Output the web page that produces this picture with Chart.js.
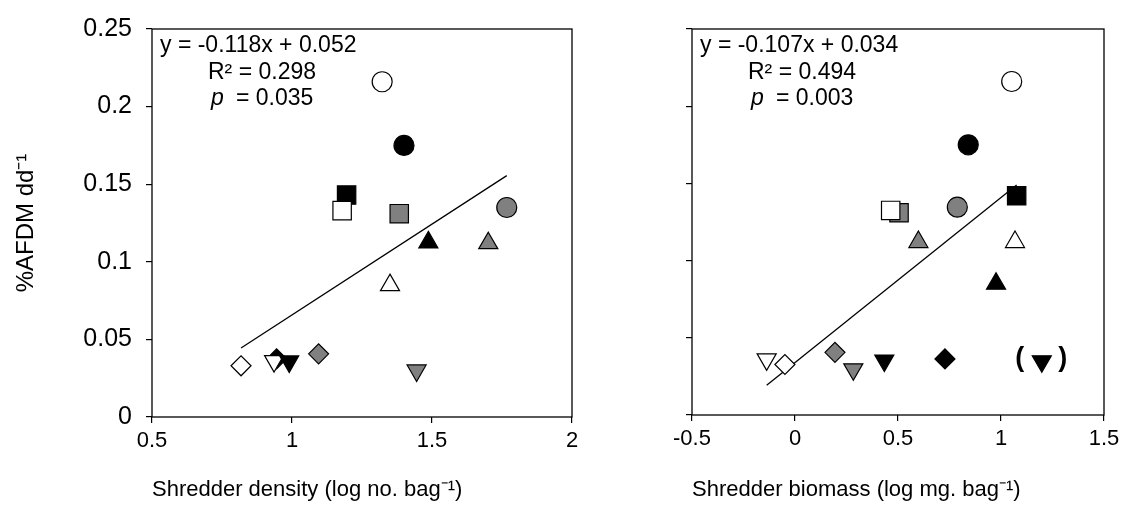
<!DOCTYPE html>
<html>
<head>
<meta charset="utf-8">
<title>Leaf decay vs shredders</title>
<script src="https://cdn.jsdelivr.net/npm/chart.js@4.4.1/dist/chart.umd.min.js"></script>
<style>
    body {
        margin: 0;
        background-color: #ffffff;
    }

    #wrap {
        position: relative;
        width: 1140px;
        height: 509px;
        overflow: hidden;
    }

    #wrap canvas {
        position: absolute;
        top: 0;
    }

    #densChart { left: 0; }
    #massChart { left: 600px; }
</style>
</head>

<body>
<div id="wrap">
    <canvas id="densChart" width="600" height="509"></canvas>
    <canvas id="massChart" width="540" height="509"></canvas>
</div>

<script>
// symbol of each site, in drawing order (later points sit on top)
const densSymbols = ['circle-open', 'circle-black', 'square-black', 'square-open', 'square-gray',
    'circle-gray', 'up-black', 'up-gray', 'up-open', 'diamond-open', 'diamond-black',
    'down-open', 'down-black', 'diamond-gray', 'down-gray']
const densX = [1.322, 1.40, 1.195, 1.179, 1.383, 1.767, 1.487, 1.701, 1.35, 0.818, 0.945, 0.936, 0.99, 1.095, 1.445]
const densY = [0.216, 0.175, 0.143, 0.133, 0.131, 0.135, 0.1125, 0.112, 0.085, 0.033, 0.0375, 0.036, 0.0358, 0.0407, 0.030]
const densFitX = [0.818, 1.767]
const densFitY = [0.0445, 0.1555]
const densStats = ['y = -0.118x + 0.052', 'R\u00b2 = 0.298', '= 0.035']

const massSymbols = ['circle-open', 'circle-black', 'square-black', 'square-gray', 'square-open',
    'circle-gray', 'up-gray', 'up-open', 'up-black', 'down-open', 'diamond-open',
    'diamond-gray', 'down-gray', 'down-black', 'diamond-black', 'down-black']
const massX = [1.052, 0.841, 1.076, 0.505, 0.4645, 0.788, 0.599, 1.068, 0.976, -0.1375, -0.049, 0.194, 0.283, 0.4335, 0.728, 1.198]
const massY = [0.216, 0.175, 0.142, 0.131, 0.1325, 0.1346, 0.112, 0.112, 0.085, 0.036, 0.0327, 0.0406, 0.0296, 0.0353, 0.0363, 0.0348]
const massFitX = [-0.1375, 1.076]
const massFitY = [0.0192, 0.149]
const massStats = ['y = -0.107x + 0.034', 'R\u00b2 = 0.494', '= 0.003']
const massBracketed = 15   // point shown in brackets

const yAxisTitle = '%AFDM dd\u207b\u00b9'
const densTitle = 'Shredder density (log no. bag\u207b\u00b9)'
const massTitle = 'Shredder biomass (log mg. bag\u207b\u00b9)'

const FONT = "'Liberation Sans', Arial, sans-serif"
const GRAY = '#808080'

const symbolStyles = {
    'circle-open':   { pointStyle: 'circle',   radius: 10, rotation: 0,   fill: '#ffffff' },
    'circle-black':  { pointStyle: 'circle',   radius: 10, rotation: 0,   fill: '#000000' },
    'circle-gray':   { pointStyle: 'circle',   radius: 10, rotation: 0,   fill: GRAY },
    'square-open':   { pointStyle: 'rect',     radius: 13, rotation: 0,   fill: '#ffffff' },
    'square-black':  { pointStyle: 'rect',     radius: 13, rotation: 0,   fill: '#000000' },
    'square-gray':   { pointStyle: 'rect',     radius: 13, rotation: 0,   fill: GRAY },
    'up-open':       { pointStyle: 'triangle', radius: 11, rotation: 0,   fill: '#ffffff' },
    'up-black':      { pointStyle: 'triangle', radius: 11, rotation: 0,   fill: '#000000' },
    'up-gray':       { pointStyle: 'triangle', radius: 11, rotation: 0,   fill: GRAY },
    'down-open':     { pointStyle: 'triangle', radius: 11, rotation: 180, fill: '#ffffff' },
    'down-black':    { pointStyle: 'triangle', radius: 11, rotation: 180, fill: '#000000' },
    'down-gray':     { pointStyle: 'triangle', radius: 11, rotation: 180, fill: GRAY },
    'diamond-open':  { pointStyle: 'rectRot',  radius: 10, rotation: 0,   fill: '#ffffff' },
    'diamond-black': { pointStyle: 'rectRot',  radius: 10, rotation: 0,   fill: '#000000' },
    'diamond-gray':  { pointStyle: 'rectRot',  radius: 10, rotation: 0,   fill: GRAY },
}

Chart.defaults.font.family = FONT
Chart.defaults.color = '#000000'

// regression stats, plot frame and the bracketed point
const panelExtras = {
    id: 'panelExtras',
    afterDraw(chart, args, opts) {
        const { ctx, chartArea: a } = chart
        ctx.save()
        ctx.strokeStyle = '#000000'
        ctx.lineWidth = 1.3
        ctx.strokeRect(a.left, a.top, a.right - a.left, a.bottom - a.top)

        ctx.fillStyle = '#000000'
        ctx.textAlign = 'left'
        ctx.textBaseline = 'alphabetic'
        ctx.font = '23px ' + FONT
        ctx.fillText(opts.stats[0], a.left + 8, a.top + 23)
        ctx.fillText(opts.stats[1], a.left + 56, a.top + 50)
        ctx.fillText(opts.stats[2], a.left + 84, a.top + 76)
        ctx.font = 'italic 23px ' + FONT
        ctx.fillText('p', a.left + 59, a.top + 76)

        if (opts.bracketed != null) {
            const pt = chart.getDatasetMeta(0).data[opts.bracketed]
            ctx.font = 'bold 27px ' + FONT
            ctx.textAlign = 'center'
            ctx.textBaseline = 'middle'
            ctx.fillText('(', pt.x - 22, pt.y - 3)
            ctx.fillText(')', pt.x + 21, pt.y - 3)
        }
        ctx.restore()
    }
}

function tickText(v) {
    return String(Number(v.toFixed(2)))
}

function makePanel(canvasId, cfg) {
    const pts = cfg.x.map((x, i) => ({ x: x, y: cfg.y[i] }))
    const fit = cfg.fitX.map((x, i) => ({ x: x, y: cfg.fitY[i] }))
    const st = cfg.symbols.map(s => symbolStyles[s])

    return new Chart(document.getElementById(canvasId), {
        type: 'scatter',
        data: {
            datasets: [{
                data: pts,
                pointStyle: st.map(s => s.pointStyle),
                pointRadius: st.map(s => s.radius),
                pointRotation: st.map(s => s.rotation),
                backgroundColor: st.map(s => s.fill),
                borderColor: '#000000',
                borderWidth: 1.2,
            }, {
                data: fit,
                showLine: true,
                pointRadius: 0,
                borderColor: '#000000',
                borderWidth: 1.3,
            }]
        },
        options: {
            responsive: false,
            animation: false,
            devicePixelRatio: 1,
            layout: { padding: { top: cfg.padTop, right: cfg.padRight, left: 0, bottom: 0 } },
            plugins: {
                legend: { display: false },
                tooltip: { enabled: false },
                panelExtras: { stats: cfg.stats, bracketed: cfg.bracketed },
            },
            scales: {
                x: {
                    type: 'linear',
                    min: cfg.xMin,
                    max: cfg.xMax,
                    afterFit(scale) { scale.height = cfg.xAxisHeight },
                    border: { display: false },
                    grid: { drawOnChartArea: false, drawTicks: true, tickLength: 6, color: '#000000', lineWidth: 1.2 },
                    ticks: { stepSize: 0.5, padding: 5, font: { size: 22 }, callback: tickText, maxRotation: 0 },
                    title: {
                        display: true,
                        text: cfg.xTitle,
                        align: 'start',
                        font: { size: 22 },
                        padding: { top: 0, bottom: 6 },
                    },
                },
                y: {
                    type: 'linear',
                    min: 0,
                    max: 0.25,
                    afterFit(scale) { scale.width = cfg.yAxisWidth },
                    border: { display: false },
                    grid: { drawOnChartArea: false, drawTicks: true, tickLength: 6, color: '#000000', lineWidth: 1.2 },
                    ticks: {
                        stepSize: 0.05,
                        padding: 14,
                        font: { size: 25 },
                        callback: cfg.yLabels ? tickText : () => '',
                    },
                    title: {
                        display: cfg.yLabels,
                        text: yAxisTitle,
                        font: { size: 24 },
                        padding: { top: 12, bottom: 0 },
                    },
                },
            },
        },
        plugins: [panelExtras],
    })
}

makePanel('densChart', {
    x: densX, y: densY, symbols: densSymbols, fitX: densFitX, fitY: densFitY,
    stats: densStats, bracketed: null,
    xMin: 0.5, xMax: 2, xTitle: densTitle, yLabels: true,
    yAxisWidth: 152, padRight: 28, padTop: 26, xAxisHeight: 92,
})

makePanel('massChart', {
    x: massX, y: massY, symbols: massSymbols, fitX: massFitX, fitY: massFitY,
    stats: massStats, bracketed: massBracketed,
    xMin: -0.5, xMax: 1.5, xTitle: massTitle, yLabels: false,
    yAxisWidth: 92, padRight: 36, padTop: 25, xAxisHeight: 94,
})
</script>
</body>
</html>
